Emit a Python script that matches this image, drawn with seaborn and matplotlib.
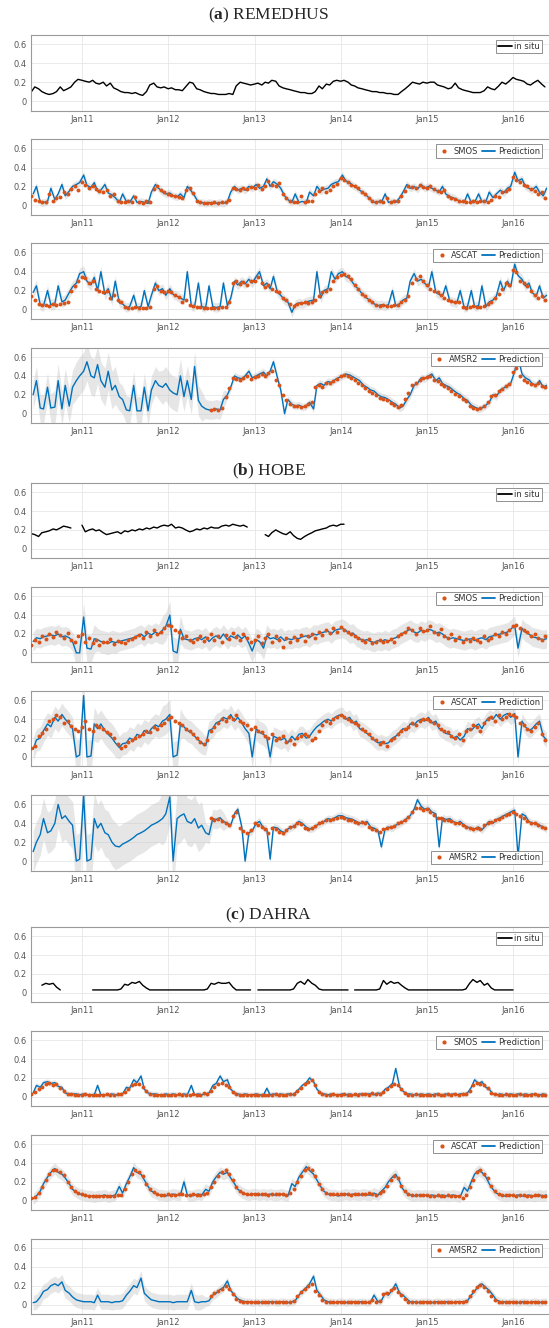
import numpy as np
import pandas as pd
import matplotlib
matplotlib.use("Agg")
import matplotlib.pyplot as plt
import matplotlib.dates as mdates
from matplotlib.lines import Line2D
import seaborn as sns

NAN = np.nan

# semi-monthly samples (1st and 15th), Jun 2010 .. May 2016
OBS_DATES = pd.date_range("2010-06-01", periods=144, freq="SMS")
PRED_DATES = OBS_DATES + pd.Timedelta(days=7)

# ---- values, soil moisture x 100 ----
# (a) REMEDHUS
REM_INSITU = [10, 15, 13, 10, 8, 7, 8, 10, 15, 11, 13, 15, 20, 23,
              22, 21, 20, 22, 19, 18, 20, 16, 19, 14, 12, 10, 9, 9, 8, 9, 7, 6, 10, 17, 19, 15, 14, 15,
              13, 14, 12, 12, 11, 15, 20, 19, 13, 12, 10, 9, 8, 8, 7, 7, 7, 8, 7, 16, 20, 19, 18, 17,
              18, 19, 17, 20, 19, 22, 21, 16, 14, 13, 12, 11, 10, 9, 9, 8, 8, 10, 16, 13, 18, 17, 21, 22,
              21, 22, 20, 17, 16, 14, 13, 12, 11, 10, 10, 9, 9, 8, 8, 7, 7, 10, 13, 16, 20, 19, 18, 20,
              19, 20, 20, 17, 16, 15, 13, 14, 19, 14, 12, 11, 10, 9, 9, 9, 11, 15, 13, 12, 16, 20, 18, 21,
              25, 23, 22, 21, 18, 17, 20, 22, 18, 15]
REM_SMOS_OBS = [10, 6, 4, 3, 3, 12, 4, 8, 9, 14, 12, 17, 20, 16,
                25, 22, 18, 20, 17, 15, 14, 16, 10, 12, 4, 3, 3, 5, 3, 9, 3, 2, 4, 3, 17, 20, 16, 14,
                12, 11, 10, 9, 8, 16, 18, 13, 5, 3, 2, 2, 2, 3, 2, 3, 3, 6, 18, 17, 16, 18, 17, 19,
                18, 21, 17, 20, 26, 22, 20, 24, 12, 8, 4, 3, 3, 10, 3, 4, 5, 12, 15, 18, 14, 16, 20, 23,
                29, 27, 25, 22, 20, 18, 14, 12, 8, 5, 3, 4, 3, 8, 3, 4, 5, 10, 15, 20, 19, 18, 21, 19,
                18, 20, 17, 15, 14, 16, 10, 8, 7, 5, 4, 3, 3, 4, 3, 4, 5, 3, 6, 10, 9, 14, 15, 17,
                30, 27, 25, 22, 20, 17, 15, 12, 14, 8]
REM_SMOS_PRED = [12, 20, 3, 3, 4, 18, 6, 12, 22, 10, 15, 20, 22, 24,
                 32, 21, 19, 24, 15, 16, 22, 13, 11, 8, 3, 12, 4, 3, 10, 3, 4, 3, 2, 14, 22, 18, 14, 12,
                 13, 10, 9, 12, 8, 20, 15, 10, 3, 3, 2, 3, 2, 2, 3, 2, 4, 14, 20, 16, 18, 16, 20, 18,
                 22, 18, 20, 28, 20, 25, 22, 18, 10, 6, 3, 12, 3, 4, 3, 14, 10, 20, 15, 17, 18, 22, 24, 25,
                 32, 26, 24, 21, 19, 16, 13, 10, 6, 3, 4, 3, 12, 3, 4, 3, 8, 14, 22, 18, 20, 17, 22, 18,
                 20, 18, 16, 14, 20, 12, 9, 8, 6, 4, 3, 12, 3, 3, 12, 4, 4, 14, 8, 12, 16, 13, 18, 20,
                 35, 26, 28, 20, 18, 16, 20, 14, 10, 18]
REM_ASCAT_OBS = [14, 10, 6, 5, 5, 4, 6, 5, 6, 7, 8, 20, 25, 30,
                 34, 33, 28, 30, 22, 20, 18, 20, 12, 15, 10, 8, 3, 2, 2, 3, 2, 2, 2, 3, 22, 25, 20, 18,
                 20, 18, 15, 13, 8, 10, 5, 4, 3, 3, 2, 2, 2, 2, 2, 3, 3, 8, 28, 30, 27, 29, 26, 30,
                 30, 34, 28, 24, 26, 22, 20, 18, 12, 10, 6, 4, 6, 7, 8, 7, 8, 10, 14, 18, 20, 22, 30, 34,
                 36, 38, 35, 32, 26, 22, 16, 14, 10, 8, 5, 4, 5, 4, 4, 5, 5, 8, 10, 14, 28, 32, 35, 30,
                 26, 22, 20, 18, 15, 12, 10, 9, 8, 8, 3, 2, 3, 4, 3, 3, 4, 6, 8, 12, 16, 22, 28, 26,
                 42, 40, 30, 28, 25, 20, 15, 12, 14, 10]
REM_ASCAT_PRED = [18, 25, 5, 4, 20, 5, 6, 25, 8, 10, 18, 24, 28, 38,
                  40, 30, 26, 34, 20, 40, 16, 22, 10, 30, 7, 6, 2, 3, 15, 2, 3, 20, 3, 15, 28, 20, 22, 15,
                  22, 16, 14, 12, 10, 40, 4, 3, 28, 3, 2, 25, 3, 2, 3, 28, 4, 12, 30, 26, 30, 27, 32, 28,
                  35, 40, 25, 28, 22, 35, 18, 15, 10, 8, -3, 5, 7, 6, 8, 9, 10, 40, 12, 20, 22, 40, 32, 38,
                  40, 35, 33, 28, 24, 20, 15, 12, 9, 6, 4, 5, 4, 5, 20, 4, 6, 10, 12, 30, 38, 30, 32, 28,
                  24, 40, 18, 16, 14, 25, 9, 8, 7, 20, 2, 3, 20, 3, 4, 25, 3, 8, 10, 14, 30, 20, 30, 24,
                  48, 36, 32, 25, 28, 18, 14, 25, 12, 15]
REM_AMSR2_OBS = [NAN] * 50 + [
                 4, 5, 4, 6, 18, 27, 38, 37, 36, 38, 40, 37,
                 39, 40, 42, 40, 43, 45, 36, 30, 20, 14, 10, 8, 8, 7, 8, 10, 12, 28, 30, 28, 32, 33, 35, 37,
                 40, 41, 40, 38, 36, 33, 30, 27, 24, 22, 20, 17, 16, 14, 11, 9, 7, 9, 16, 22, 30, 33, 36, 38,
                 39, 40, 36, 35, 31, 29, 27, 24, 21, 19, 16, 13, 8, 6, 5, 6, 8, 12, 19, 20, 24, 26, 29, 31,
                 44, 48, 40, 36, 34, 31, 30, 32, 29, 28]
REM_AMSR2_PRED = [20, 35, 6, 5, 28, 6, 7, 35, 5, 30, 8, 28, 35, 40,
                  45, 55, 40, 38, 52, 35, 28, 45, 25, 30, 18, 15, 4, 3, 30, 3, 3, 28, 3, 25, 35, 30, 28, 32,
                  25, 22, 20, 40, 18, 35, 15, 50, 14, 8, 5, 4, 4, 5, 4, 15, 20, 28, 40, 38, 37, 40, 45, 38,
                  40, 42, 44, 40, 45, 55, 38, 25, 0, 15, 10, 8, 9, 7, 8, 12, 5, 30, 32, 30, 34, 33, 36, 38,
                  40, 42, 41, 39, 37, 35, 30, 28, 25, 24, 20, 18, 17, 15, 12, 10, 6, 8, 15, 20, 30, 32, 38, 37,
                  40, 42, 35, 38, 32, 30, 28, 25, 22, 20, 16, 14, 9, 7, 5, 6, 9, 12, 20, 18, 25, 27, 30, 32,
                  45, 60, 42, 38, 36, 32, 30, 35, 28, 30]

# (b) HOBE
HOBE_INSITU = [16, 15, 13, 17, 18, 19, 21, 20, 22, 24, 23, 22, NAN, NAN,
               25, 18, 20, 21, 19, 20, 17, 15, 16, 17, 18, 16, 19, 18, 20, 19, 21, 20, 22, 21, 23, 22, 24, 25,
               24, 26, 22, 23, 22, 20, 18, 19, 21, 20, 22, 21, 23, 22, 22, 24, 25, 24, 26, 25, 24, 25, 23, NAN,
               NAN, NAN, NAN, 15, 13, 17, 20, 18, 16, 15, 18, 14, 11, 10, 13, 15, 17, 19, 20, 21, 22, 24, 25, 24,
               26, 26] + [NAN] * 56
HOBE_SMOS_OBS = [8, 14, 12, 18, 15, 20, 17, 22, 19, 16, 21, 14, 12, 18,
                 20, 12, 16, 10, 14, 8, 12, 11, 15, 9, 13, 12, 10, 14, 15, 17, 19, 16, 22, 18, 24, 20, 22, 26,
                 30, 28, 24, 22, 16, 18, 14, 12, 15, 18, 13, 16, 20, 14, 18, 12, 19, 15, 21, 17, 14, 20, 16, 12,
                 14, 18, 10, 16, 20, 12, 18, 14, 6, 16, 12, 17, 14, 19, 13, 18, 20, 16, 22, 19, 24, 21, 26, 22,
                 27, 24, 22, 20, 18, 16, 14, 12, 15, 10, 12, 14, 11, 13, 15, 12, 18, 20, 22, 26, 24, 20, 26, 23,
                 24, 28, 22, 20, 25, 18, 16, 20, 14, 17, 12, 15, 13, 16, 14, 12, 18, 14, 16, 20, 18, 22, 20, 24,
                 28, 30, 26, 24, 22, 18, 20, 16, 14, 18]
HOBE_SMOS_PRED = [12, 16, 15, 17, 18, 19, 18, 20, 17, 18, 16, 12, 0, 0,
                  38, 5, 4, 15, 14, 12, 11, 10, 12, 11, 12, 13, 14, 15, 16, 18, 20, 17, 21, 19, 22, 20, 24, 28,
                  40, 2, 0, 25, 15, 14, 13, 15, 16, 14, 17, 12, 16, 18, 15, 20, 14, 18, 16, 19, 15, 18, 10, 2,
                  14, 12, 5, 18, 15, 16, 14, 17, 13, 15, 14, 16, 15, 17, 18, 16, 20, 19, 21, 22, 23, 20, 24, 25,
                  26, 24, 20, 21, 17, 15, 13, 14, 12, 11, 13, 12, 14, 12, 15, 16, 19, 21, 23, 25, 22, 21, 24, 22,
                  25, 24, 21, 22, 20, 17, 15, 16, 15, 14, 13, 14, 15, 13, 15, 16, 14, 17, 18, 19, 20, 21, 22, 25,
                  29, 5, 26, 22, 20, 17, 16, 15, 14, 15]
HOBE_ASCAT_OBS = [10, 12, 22, 25, 30, 38, 40, 44, 42, 36, 38, 33, 30, 28,
                  32, 38, 30, 28, 34, 32, 30, 26, 24, 20, 14, 10, 12, 16, 18, 20, 22, 24, 28, 26, 32, 30, 34, 36,
                  40, 42, 38, 36, 34, 30, 28, 24, 20, 16, 14, 18, 28, 32, 36, 40, 38, 42, 40, 44, 38, 36, 34, 30,
                  32, 28, 26, 22, 20, 24, 18, 20, 22, 16, 18, 14, 20, 22, 24, 22, 18, 20, 28, 34, 38, 36, 40, 42,
                  44, 42, 40, 38, 36, 34, 30, 28, 24, 20, 18, 14, 16, 12, 18, 20, 24, 28, 30, 32, 36, 34, 38, 40,
                  40, 38, 36, 34, 30, 28, 26, 22, 20, 24, 18, 28, 30, 34, 32, 28, 36, 40, 42, 38, 44, 40, 42, 46,
                  44, 42, 36, 34, 30, 28, 32, 36, 24, 18]
HOBE_ASCAT_PRED = [8, 18, 20, 28, 35, 32, 42, 38, 45, 40, 35, 30, 0, 2,
                   65, 0, 1, 35, 30, 35, 28, 24, 20, 15, 10, 14, 15, 20, 18, 24, 22, 28, 25, 30, 34, 32, 38, 40,
                   45, 0, 2, 35, 32, 28, 26, 22, 18, 15, 12, 28, 30, 36, 38, 42, 40, 45, 38, 42, 36, 30, 25, 0,
                   30, 26, 24, 20, 0, 22, 20, 18, 20, 15, 22, 18, 24, 25, 20, 22, 28, 32, 35, 38, 40, 38, 42, 44,
                   45, 40, 42, 36, 38, 30, 28, 25, 22, 18, 15, 16, 14, 15, 20, 22, 26, 30, 28, 35, 34, 38, 40, 38,
                   42, 36, 38, 30, 28, 25, 24, 20, 22, 18, 22, 30, 28, 32, 35, 30, 38, 42, 40, 45, 40, 44, 46, 42,
                   46, 0, 38, 32, 28, 30, 35, 38, 22, 18]
HOBE_AMSR2_OBS = [NAN] * 50 + [
                  46, 44, 45, 42, 40, 38, 48, 52, 35, 32, 30, 33,
                  40, 38, 36, 34, 30, 35, 34, 31, 30, 33, 36, 37, 40, 39, 35, 34, 35, 37, 40, 41, 44, 43, 45, 46,
                  47, 46, 44, 43, 41, 40, 41, 40, 36, 34, 33, 31, 34, 35, 36, 37, 40, 41, 44, 47, 52, 56, 56, 54,
                  55, 52, 49, 46, 46, 44, 44, 42, 40, 40, 38, 36, 35, 34, 35, 34, 38, 40, 41, 43, 45, 47, 49, 50,
                  52, 50, 48, 46, 42, 40, 40, 38, 36, 35]
HOBE_AMSR2_PRED = [10, 20, 28, 45, 30, 32, 40, 60, 45, 48, 42, 38, 0, 2,
                   70, 0, 2, 45, 35, 40, 30, 28, 20, 16, 15, 18, 20, 22, 25, 28, 30, 32, 35, 38, 40, 42, 45, 50,
                   68, 0, 45, 48, 50, 42, 40, 45, 35, 38, 30, 28, 45, 44, 46, 42, 40, 38, 50, 55, 36, 0, 30, 32,
                   40, 42, 35, 34, 2, 36, 35, 32, 30, 34, 36, 38, 42, 40, 36, 34, 35, 38, 40, 42, 45, 44, 46, 48,
                   48, 46, 45, 44, 42, 40, 40, 42, 36, 35, 32, 15, 34, 36, 35, 38, 40, 42, 45, 48, 55, 65, 58, 55,
                   56, 52, 50, 15, 46, 44, 45, 42, 40, 42, 38, 36, 35, 34, 36, 33, 38, 42, 40, 44, 46, 48, 50, 52,
                   54, 5, 50, 48, 42, 40, 40, 38, 36, 34]

# (c) DAHRA
DAH_INSITU = [NAN, NAN, NAN, 8, 10, 9, 10, 6, 3, NAN, NAN, NAN, NAN, NAN,
              NAN, NAN, NAN, 3, 3, 3, 3, 3, 3, 3, 3, 4, 9, 8, 11, 10, 12, 8, 5, 3, 3, 3, 3, 3,
              3, 3, 3, 3, 3, 3, 3, 3, 3, 3, 3, 4, 10, 9, 11, 10, 10, 11, 6, 3, 3, 3, 3, 3,
              NAN, 3, 3, 3, 3, 3, 3, 3, 3, 3, 3, 4, 10, 12, 9, 14, 10, 8, 4, 3, 3, 3, 3, 3,
              3, 3, 3, NAN, 3, 3, 3, 3, 3, 3, 3, 4, 13, 9, 12, 10, 11, 8, 5, 3, 3, 3, 3, 3,
              3, 3, 3, 3, 3, 3, 3, 3, 3, 3, 3, 4, 10, 14, 11, 13, 8, 10, 5, 3, 3, 3, 3, 3,
              3, NAN, NAN, NAN, NAN, NAN, NAN, NAN, NAN, NAN]
DAH_SMOS_OBS = [3, 5, 8, 10, 14, 15, 12, 13, 9, 6, 3, 3, 2, 2,
                2, 3, 2, 2, 2, 2, 2, 3, 2, 2, 3, 3, 5, 8, 12, 13, 14, 10, 6, 3, 2, 2, 2, 2,
                2, 2, 2, 3, 2, 2, 2, 3, 2, 2, 4, 3, 6, 10, 13, 15, 12, 10, 5, 3, 2, 2, 2, 2,
                2, 2, 2, 2, 2, 2, 3, 2, 2, 2, 3, 3, 6, 9, 13, 16, 18, 12, 5, 3, 2, 2, 3, 2,
                2, 3, 2, 2, 3, 2, 3, 3, 2, 4, 3, 3, 5, 8, 11, 14, 12, 8, 4, 2, 2, 3, 2, 2,
                2, 2, 2, 3, 2, 2, 3, 2, 3, 2, 3, 3, 6, 12, 15, 14, 12, 9, 4, 3, 2, 2, 3, 2,
                2, 2, 3, 2, 2, 2, 3, 2, 2, 2]
DAH_SMOS_PRED = [4, 12, 10, 15, 16, 14, 15, 11, 10, 4, 3, 3, 3, 2,
                 3, 2, 2, 2, 12, 2, 2, 2, 3, 2, 2, 3, 10, 9, 18, 15, 22, 8, 4, 3, 3, 2, 2, 3,
                 2, 3, 2, 2, 3, 2, 12, 2, 3, 2, 3, 4, 12, 14, 22, 16, 18, 8, 4, 3, 2, 3, 2, 2,
                 3, 2, 2, 9, 2, 3, 2, 3, 2, 3, 2, 4, 8, 12, 15, 20, 16, 8, 4, 3, 2, 3, 2, 2,
                 3, 2, 3, 2, 2, 3, 2, 3, 3, 2, 4, 3, 8, 10, 14, 30, 10, 6, 3, 3, 2, 2, 3, 2,
                 3, 2, 3, 2, 2, 3, 2, 3, 2, 3, 3, 4, 10, 18, 14, 16, 10, 8, 3, 2, 3, 2, 2, 3,
                 2, 3, 2, 3, 2, 3, 2, 2, 3, 2]
DAH_ASCAT_OBS = [3, 4, 8, 14, 22, 28, 32, 33, 30, 27, 20, 15, 10, 8,
                 7, 6, 5, 5, 5, 5, 5, 5, 5, 5, 6, 6, 12, 20, 28, 32, 30, 26, 18, 12, 9, 7, 6, 6,
                 7, 6, 6, 7, 7, 6, 6, 7, 6, 6, 7, 8, 15, 20, 26, 30, 32, 28, 22, 15, 10, 8, 7, 7,
                 7, 7, 7, 7, 6, 7, 7, 7, 7, 6, 8, 12, 20, 26, 33, 35, 32, 26, 18, 12, 8, 7, 7, 7,
                 7, 7, 7, 6, 7, 7, 7, 7, 8, 7, 6, 8, 10, 16, 22, 26, 24, 16, 10, 7, 6, 6, 6, 6,
                 6, 5, 5, 6, 5, 5, 6, 5, 5, 5, 3, 6, 15, 22, 30, 32, 28, 24, 16, 10, 7, 6, 6, 6,
                 6, 5, 6, 6, 5, 5, 6, 6, 5, 5]
DAH_ASCAT_PRED = [2, 5, 10, 18, 25, 30, 34, 30, 28, 24, 18, 12, 9, 7,
                  6, 5, 5, 4, 5, 5, 6, 4, 5, 6, 15, 8, 18, 25, 35, 30, 28, 22, 15, 10, 8, 6, 6, 5,
                  6, 7, 6, 6, 20, 6, 5, 6, 7, 6, 12, 10, 20, 25, 30, 28, 30, 24, 18, 12, 9, 7, 6, 7,
                  7, 6, 7, 6, 7, 6, 6, 7, 6, 5, 18, 15, 25, 30, 36, 32, 28, 22, 15, 10, 7, 6, 6, 5,
                  6, 7, 6, 7, 6, 6, 7, 6, 6, 8, 6, 10, 14, 20, 25, 28, 20, 12, 8, 6, 5, 6, 5, 6,
                  5, 6, 5, 5, 6, 5, 5, 6, 5, 4, 14, 10, 20, 28, 32, 30, 25, 18, 12, 8, 6, 5, 5, 6,
                  5, 6, 5, 5, 6, 5, 5, 6, 5, 6]
DAH_AMSR2_OBS = [NAN] * 50 + [
                 9, 12, 14, 17, 20, 16, 11, 6, 4, 3, 3, 3,
                 3, 3, 3, 3, 3, 3, 3, 3, 3, 3, 3, 4, 9, 13, 17, 20, 22, 14, 10, 5, 3, 3, 3, 3,
                 3, 3, 3, 3, 3, 3, 3, 3, 3, 5, 3, 4, 11, 12, 15, 18, 13, 10, 6, 3, 3, 3, 3, 3,
                 3, 3, 3, 3, 3, 3, 3, 3, 3, 3, 3, 4, 9, 14, 19, 21, 19, 14, 9, 5, 3, 3, 3, 3,
                 3, 3, 3, 3, 3, 3, 3, 3, 3, 3]
DAH_AMSR2_PRED = [2, 3, 8, 14, 16, 20, 22, 20, 24, 15, 12, 8, 5, 4,
                  3, 3, 3, 2, 10, 3, 3, 3, 2, 3, 3, 4, 10, 14, 20, 18, 28, 12, 8, 5, 4, 3, 3, 3,
                  3, 2, 3, 3, 3, 3, 15, 3, 2, 3, 3, 4, 10, 12, 16, 18, 25, 15, 10, 6, 4, 3, 3, 2,
                  3, 2, 3, 2, 3, 3, 2, 3, 3, 2, 3, 4, 10, 14, 18, 22, 30, 15, 10, 5, 3, 3, 2, 3,
                  3, 2, 3, 3, 2, 3, 3, 2, 3, 10, 3, 4, 12, 10, 16, 22, 12, 10, 6, 3, 3, 2, 3, 3,
                  3, 2, 3, 3, 2, 3, 3, 2, 3, 3, 3, 4, 10, 14, 20, 22, 18, 15, 10, 5, 3, 3, 2, 3,
                  3, 2, 3, 3, 2, 3, 3, 2, 3, 3]

# uncertainty half-width, one value per 3-month season (Jun-Aug 2010 .. Mar-May 2016)
REM_SMOS_BAND = [4, 4, 4, 4, 4, 4, 4, 4, 4, 4, 4, 4, 4, 4, 4, 4, 4, 4, 4, 4, 4, 4, 4, 4]
REM_ASCAT_BAND = [6, 6, 6, 6, 5, 5, 5, 5, 5, 5, 5, 5, 5, 5, 5, 5, 5, 5, 5, 5, 5, 5, 5, 5]
REM_AMSR2_BAND = [15, 18, 20, 20, 15, 15, 18, 16, 10, 4, 4, 4, 4, 4, 4, 4, 4, 4, 4, 4, 4, 4, 4, 4]
HOBE_SMOS_BAND = [10, 10, 15, 12, 10, 10, 15, 10, 10, 10, 12, 10, 10, 10, 10, 10, 10, 10, 10, 10, 10, 10, 10, 10]
HOBE_ASCAT_BAND = [12, 12, 18, 15, 12, 12, 16, 12, 10, 10, 12, 10, 8, 8, 8, 8, 8, 8, 8, 8, 8, 8, 8, 8]
HOBE_AMSR2_BAND = [22, 25, 28, 25, 22, 22, 28, 25, 10, 4, 4, 4, 4, 4, 4, 4, 4, 4, 4, 4, 4, 4, 4, 4]
DAH_SMOS_BAND = [3, 3, 3, 3, 3, 3, 3, 3, 3, 3, 3, 3, 3, 3, 3, 3, 3, 3, 3, 3, 3, 3, 3, 3]
DAH_ASCAT_BAND = [6, 6, 6, 6, 6, 6, 6, 6, 6, 6, 6, 6, 6, 6, 6, 6, 6, 6, 6, 6, 6, 6, 6, 6]
DAH_AMSR2_BAND = [8, 8, 8, 8, 8, 8, 8, 8, 5, 4, 4, 4, 4, 4, 4, 4, 4, 4, 4, 4, 4, 4, 4, 4]

ORANGE = "#D95319"
BLUE = "#0072BD"

# figure layout in pixels
FIG_W, FIG_H = 549, 1328
AX_LEFT, AX_RIGHT, AX_H = 31, 552, 75.5
XMIN, XMAX = pd.Timestamp("2010-05-30"), pd.Timestamp("2016-06-14")


def pct(values):
    return np.asarray(values, dtype=float) / 100.0


def season_band(widths):
    # one half-width per season -> 6 semi-monthly samples each
    return np.repeat(pct(widths), 6)


def add_axes(fig, top_px):
    return fig.add_axes([AX_LEFT / FIG_W, 1 - (top_px + AX_H) / FIG_H,
                         (AX_RIGHT - AX_LEFT) / FIG_W, AX_H / FIG_H])


def style_axes(ax):
    ax.set_xlim(XMIN, XMAX)
    ax.set_ylim(-0.1, 0.7)
    ax.set_yticks([0, 0.2, 0.4, 0.6])
    ax.set_yticklabels(["0", "0.2", "0.4", "0.6"])
    ax.xaxis.set_major_locator(mdates.YearLocator(month=1, day=1))
    ax.xaxis.set_major_formatter(mdates.DateFormatter("%b%y"))
    ax.grid(True, color="#e6e6e6", linewidth=0.6)
    ax.set_axisbelow(True)
    ax.tick_params(direction="in", length=2, width=0.5, color="#888888",
                   labelcolor="#555555", labelsize=6, pad=3)
    for sp in ax.spines.values():
        sp.set_visible(True)
        sp.set_color("#9a9a9a")
        sp.set_linewidth(0.8)
    ax.set_xlabel("")
    ax.set_ylabel("")


def legend(ax, handles, labels, ncol, lower=False):
    if lower:
        loc, anchor = "lower right", (0.981, 0.08)
    else:
        loc, anchor = "upper right", (0.981, 0.93)
    leg = ax.legend(handles, labels, loc=loc, bbox_to_anchor=anchor, ncol=ncol,
                    fontsize=6, frameon=True, fancybox=False, framealpha=1,
                    edgecolor="#7f7f7f", borderpad=0.25, borderaxespad=0,
                    handlelength=1.6, handletextpad=0.3, columnspacing=0.5)
    leg.get_frame().set_linewidth(0.6)
    for t in leg.get_texts():
        t.set_color("#333333")


def draw_insitu(ax, values):
    ax.plot(OBS_DATES, pct(values), color="black", lw=1.0)
    style_axes(ax)
    legend(ax, [Line2D([], [], color="black", lw=1.3)], ["in situ"], 1)


def draw_sensor(ax, name, obs, pred, band, lower=False):
    p = pct(pred)
    w = season_band(band)
    ax.fill_between(PRED_DATES, p - w, p + w, color="#c2c2c2", alpha=0.4, lw=0)
    sns.lineplot(x=PRED_DATES, y=p, ax=ax, color=BLUE, lw=1.0,
                 estimator=None, sort=False, legend=False)
    sns.scatterplot(x=OBS_DATES, y=pct(obs), ax=ax, color=ORANGE, s=8,
                    linewidth=0, legend=False, zorder=3)
    style_axes(ax)
    handles = [Line2D([], [], marker="o", ls="none", ms=2, color=ORANGE),
               Line2D([], [], color=BLUE, lw=1.3)]
    legend(ax, handles, [name, "Prediction"], 2, lower=lower)


sns.set_style("whitegrid")
plt.rcParams["font.family"] = ["DejaVu Sans"]
plt.rcParams["mathtext.fontset"] = "custom"
plt.rcParams["mathtext.rm"] = "Liberation Serif"
plt.rcParams["mathtext.bf"] = "Liberation Serif:bold"

fig = plt.figure(figsize=(FIG_W / 100, FIG_H / 100), dpi=100)

SITES = [
    ("a", "REMEDHUS", 15.5, [35, 139.2, 243.4, 347.6], REM_INSITU,
     [("SMOS", REM_SMOS_OBS, REM_SMOS_PRED, REM_SMOS_BAND),
      ("ASCAT", REM_ASCAT_OBS, REM_ASCAT_PRED, REM_ASCAT_BAND),
      ("AMSR2", REM_AMSR2_OBS, REM_AMSR2_PRED, REM_AMSR2_BAND)]),
    ("b", "HOBE", 471.7, [482.7, 586.8, 690.9, 795], HOBE_INSITU,
     [("SMOS", HOBE_SMOS_OBS, HOBE_SMOS_PRED, HOBE_SMOS_BAND),
      ("ASCAT", HOBE_ASCAT_OBS, HOBE_ASCAT_PRED, HOBE_ASCAT_BAND),
      ("AMSR2", HOBE_AMSR2_OBS, HOBE_AMSR2_PRED, HOBE_AMSR2_BAND)]),
    ("c", "DAHRA", 915, [926.7, 1030.7, 1134.6, 1238.5], DAH_INSITU,
     [("SMOS", DAH_SMOS_OBS, DAH_SMOS_PRED, DAH_SMOS_BAND),
      ("ASCAT", DAH_ASCAT_OBS, DAH_ASCAT_PRED, DAH_ASCAT_BAND),
      ("AMSR2", DAH_AMSR2_OBS, DAH_AMSR2_PRED, DAH_AMSR2_BAND)]),
]

for letter, site, title_y, tops, insitu, sensors in SITES:
    fig.text(0.49, 1 - title_y / FIG_H, r"($\mathbf{%s}$) %s" % (letter, site),
             ha="center", va="center", fontsize=12.5, family="Liberation Serif")
    draw_insitu(add_axes(fig, tops[0]), insitu)
    for top, (name, obs, pred, band) in zip(tops[1:], sensors):
        lower = (site == "HOBE" and name == "AMSR2")
        draw_sensor(add_axes(fig, top), name, obs, pred, band, lower=lower)

fig.savefig("out.png", dpi=100)
